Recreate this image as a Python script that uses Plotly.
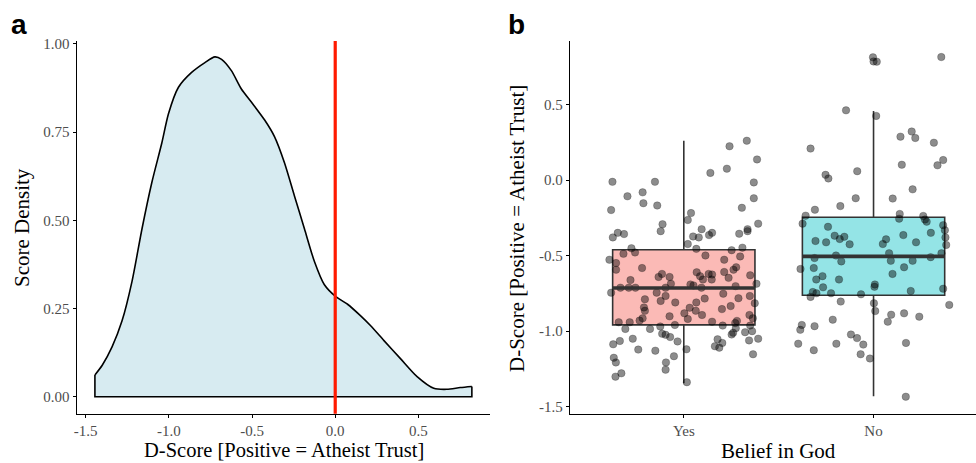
import plotly.graph_objects as go

# ---------------- Panel a: density of D-scores ----------------
density_x = [-1.444, -1.400, -1.341, -1.281, -1.221, -1.161, -1.102, -1.042, -1.002, -0.942,
             -0.863, -0.783, -0.723, -0.683, -0.624, -0.564, -0.504, -0.424, -0.365, -0.305,
             -0.245, -0.185, -0.125, -0.066, 0.000, 0.074, 0.153, 0.213, 0.293, 0.392,
             0.492, 0.592, 0.671, 0.751, 0.821]
density_y = [0.0615, 0.089, 0.141, 0.215, 0.327, 0.476, 0.607, 0.719, 0.802, 0.877,
             0.919, 0.947, 0.963, 0.956, 0.924, 0.872, 0.835, 0.784, 0.737, 0.663,
             0.569, 0.476, 0.383, 0.318, 0.285, 0.262, 0.229, 0.201, 0.159, 0.108,
             0.057, 0.024, 0.021, 0.026, 0.029]
ref_line = 0.0

a_xticks = [-1.5, -1.0, -0.5, 0.0, 0.5]
a_xticktext = ["-1.5", "-1.0", "-0.5", "0.0", "0.5"]
a_yticks = [0.0, 0.25, 0.5, 0.75, 1.0]
a_yticktext = ["0.00", "0.25", "0.50", "0.75", "1.00"]

# ---------------- Panel b: box plots + jittered scores ----------------
categories = ["Yes", "No"]
box_q1 = [-0.958, -0.762]
box_median = [-0.714, -0.505]
box_q3 = [-0.461, -0.246]
box_lower = [-1.344, -1.431]
box_upper = [0.261, 0.457]

yes_jitter = [-0.376, -0.152, -0.297, -0.217, -0.213, -0.140, -0.383, -0.112, -0.122, -0.348,
              -0.315, -0.374, -0.276, 0.241, 0.332, 0.386, 0.140, 0.227, 0.369, 0.369,
              0.306, 0.038, 0.021, 0.392, 0.094, 0.336, 0.336, 0.292, 0.149, 0.133,
              0.049, 0.079, 0.021, 0.066, 0.309, 0.252, -0.257, -0.318, -0.392, -0.357,
              -0.357, -0.220, -0.115, -0.133, -0.075, -0.281, -0.068, -0.334, -0.290, -0.255,
              -0.383, -0.143, -0.096, -0.096, -0.205, -0.045, -0.122, -0.210, -0.205, -0.075,
              -0.217, -0.233, -0.343, -0.285, 0.003, -0.308, -0.178, -0.124, -0.047, -0.114,
              -0.096, -0.072, -0.033, -0.269, -0.337, -0.372, -0.240, -0.150, -0.052, -0.369,
              -0.358, -0.094, -0.096, -0.329, -0.360, 0.016, 0.114, 0.213, 0.297, 0.068,
              0.086, 0.131, 0.149, 0.101, 0.147, 0.213, 0.236, 0.262, 0.276, 0.350,
              0.383, 0.035, 0.051, 0.093, 0.273, 0.110, 0.208, 0.288, 0.348, 0.066,
              0.031, 0.201, 0.247, 0.374, 0.063, 0.096, 0.021, 0.149, 0.346, 0.364,
              0.280, 0.271, 0.205, 0.274, 0.350, 0.260, 0.252, 0.323, 0.360, 0.178,
              0.203, 0.164, 0.187, 0.344, 0.392, 0.014, 0.365]
yes_scores = [-0.011, -0.011, -0.107, -0.081, -0.153, -0.168, -0.198, -0.292, -0.338, -0.349,
              -0.357, -0.379, -0.451, 0.224, 0.261, 0.137, 0.048, 0.076, -0.015, -0.120,
              -0.183, -0.218, -0.264, -0.288, -0.325, -0.325, -0.338, -0.355, -0.349, -0.364,
              -0.373, -0.379, -0.423, -0.455, -0.447, -0.464, -0.479, -0.488, -0.527, -0.549,
              -0.593, -0.582, -0.621, -0.641, -0.641, -0.662, -0.686, -0.712, -0.712, -0.712,
              -0.745, -0.745, -0.712, -0.767, -0.789, -0.810, -0.800, -0.843, -0.865, -0.902,
              -0.915, -0.930, -0.941, -0.941, -0.882, -0.985, -0.985, -0.969, -0.959, -1.017,
              -1.024, -1.039, -1.068, -1.050, -1.065, -1.087, -1.122, -1.129, -1.166, -1.176,
              -1.207, -1.207, -1.255, -1.279, -1.301, -1.338, -0.499, -0.527, -0.505, -0.610,
              -0.636, -0.621, -0.625, -0.658, -0.658, -0.608, -0.647, -0.593, -0.577, -0.630,
              -0.686, -0.691, -0.697, -0.712, -0.702, -0.784, -0.752, -0.782, -0.767, -0.810,
              -0.845, -0.854, -0.834, -0.815, -0.865, -0.893, -0.919, -0.937, -0.893, -0.915,
              -0.932, -0.946, -0.963, -0.980, -0.963, -1.011, -1.022, -1.007, -1.000, -1.054,
              -1.078, -1.100, -1.109, -1.061, -1.050, -1.120, -1.153]

no_jitter = [-0.003, 0.000, 0.017, 0.357, -0.145, 0.014, -0.332, -0.253, -0.238, -0.086,
             -0.094, -0.175, -0.309, -0.358, 0.142, 0.201, 0.220, 0.318, 0.149, 0.337,
             0.367, 0.206, 0.101, 0.138, 0.262, 0.135, -0.374, -0.240, -0.205, -0.178,
             -0.154, -0.306, -0.250, -0.126, -0.311, -0.170, -0.198, -0.385, -0.315, -0.269,
             -0.302, -0.182, -0.266, 0.007, 0.005, -0.320, -0.301, -0.224, -0.066, -0.332,
             -0.173, 0.002, 0.009, -0.215, -0.378, -0.386, -0.311, -0.119, -0.087, -0.054,
             -0.397, -0.196, -0.315, -0.068, -0.019, 0.271, 0.280, 0.367, 0.376, 0.379,
             0.383, 0.066, 0.049, 0.157, 0.224, 0.302, 0.082, 0.091, 0.206, 0.161,
             0.301, 0.358, 0.100, 0.196, 0.367, 0.093, 0.075, 0.161, 0.241, 0.399,
             0.171, 0.170]
no_scores = [0.813, 0.786, 0.784, 0.815, 0.462, 0.425, 0.209, 0.035, 0.011, 0.059,
             -0.120, -0.172, -0.196, -0.235, 0.288, 0.322, 0.279, 0.248, 0.102, 0.098,
             0.133, -0.061, -0.122, -0.224, -0.237, -0.255, -0.288, -0.309, -0.368, -0.390,
             -0.375, -0.403, -0.412, -0.425, -0.516, -0.538, -0.499, -0.588, -0.582, -0.636,
             -0.658, -0.658, -0.710, -0.691, -0.706, -0.741, -0.749, -0.749, -0.756, -0.773,
             -0.804, -0.815, -0.867, -0.924, -0.959, -0.991, -0.967, -1.022, -1.046, -1.089,
             -1.083, -1.083, -1.126, -1.153, -1.181, -0.261, -0.275, -0.298, -0.331, -0.379,
             -0.429, -0.392, -0.423, -0.364, -0.412, -0.349, -0.484, -0.534, -0.534, -0.577,
             -0.510, -0.484, -0.621, -0.734, -0.719, -0.891, -0.937, -0.882, -0.904, -0.826,
             -1.078, -1.434]

b_yticks = [-1.5, -1.0, -0.5, 0.0, 0.5]
b_yticktext = ["-1.5", "-1.0", "-0.5", "0.0", "0.5"]

box_fill = ["rgba(248,118,109,0.5)", "rgba(0,191,196,0.42)"]
box_width = 0.75

W, H = 976, 463
SERIF = "Liberation Serif, Times New Roman, serif"
SANS = "Liberation Sans, Arial, sans-serif"


def px(x):
    return x / W


def py(y):
    return 1 - y / H


fig = go.Figure()

# density area (smooth curve filled down to zero)
fig.add_trace(go.Scatter(
    x=density_x, y=density_y, mode="lines", fill="tozeroy", fillcolor="#d7ebf1",
    line=dict(color="black", width=1.6, shape="spline", smoothing=0.7),
    xaxis="x", yaxis="y", hoverinfo="skip", showlegend=False))
# straight edges of the density outline (left side, baseline, right side)
fig.add_trace(go.Scatter(
    x=[density_x[0], density_x[0], density_x[-1], density_x[-1]],
    y=[density_y[0], 0.0, 0.0, density_y[-1]], mode="lines",
    line=dict(color="black", width=1.6),
    xaxis="x", yaxis="y", hoverinfo="skip", showlegend=False))

# jittered points (drawn under the boxes)
pos = {c: i for i, c in enumerate(categories)}
fig.add_trace(go.Scatter(
    x=[pos["Yes"] + j for j in yes_jitter] + [pos["No"] + j for j in no_jitter],
    y=yes_scores + no_scores, mode="markers",
    marker=dict(size=7.5, color="rgba(0,0,0,0.45)",
                line=dict(width=0.7, color="rgba(0,0,0,0.3)")),
    xaxis="x2", yaxis="y2", hoverinfo="skip", showlegend=False))

# boxes
for i, c in enumerate(categories):
    fig.add_trace(go.Box(
        x=[i], q1=[box_q1[i]], median=[box_median[i]], q3=[box_q3[i]],
        lowerfence=[box_lower[i]], upperfence=[box_upper[i]],
        width=box_width, whiskerwidth=0, fillcolor=box_fill[i], boxpoints=False,
        line=dict(color="#333333", width=1.6),
        xaxis="x2", yaxis="y2", hoverinfo="skip", showlegend=False))
    # thick median bar
    fig.add_trace(go.Scatter(
        x=[i - box_width / 2, i + box_width / 2], y=[box_median[i], box_median[i]],
        mode="lines", line=dict(color="#333333", width=3.6),
        xaxis="x2", yaxis="y2", hoverinfo="skip", showlegend=False))

ydom = [py(414), py(36.5)]
axis_common = dict(showgrid=False, zeroline=False, showline=True, linecolor="black",
                   linewidth=1.3, ticks="outside", ticklen=3, tickwidth=1.1,
                   tickcolor="black", tickfont=dict(family=SERIF, size=15, color="#4d4d4d"))

fig.update_layout(
    width=W, height=H, margin=dict(l=0, r=0, t=0, b=0),
    paper_bgcolor="white", plot_bgcolor="white", showlegend=False,
    xaxis=dict(domain=[px(74), px(489)], range=[-1.553, 0.933], anchor="y",
               tickmode="array", tickvals=a_xticks, ticktext=a_xticktext, **axis_common),
    yaxis=dict(domain=ydom, range=[-0.048, 1.008], anchor="x",
               tickmode="array", tickvals=a_yticks, ticktext=a_yticktext, **axis_common),
    xaxis2=dict(domain=[px(568.7), 1.0], range=[-0.6, 1.54], anchor="y2",
                tickmode="array", tickvals=[pos[c] for c in categories], ticktext=categories,
                **axis_common),
    yaxis2=dict(domain=ydom, range=[-1.546, 0.921], anchor="x2",
                tickmode="array", tickvals=b_yticks, ticktext=b_yticktext, **axis_common),
    shapes=[dict(type="line", xref="x", yref="y domain", x0=ref_line, x1=ref_line,
                 y0=0, y1=1, line=dict(color="#ff1a00", width=3.2))],
    annotations=[
        dict(text="<b>a</b>", x=px(6), y=py(20), xref="paper", yref="paper",
             xanchor="left", yanchor="middle", showarrow=False,
             font=dict(family=SANS, size=28, color="black")),
        dict(text="<b>b</b>", x=px(505), y=py(20), xref="paper", yref="paper",
             xanchor="left", yanchor="middle", showarrow=False,
             font=dict(family=SANS, size=28, color="black")),
        dict(text="Score Density", x=px(19), y=py(225), xref="paper", yref="paper",
             xanchor="center", yanchor="middle", textangle=-90, showarrow=False,
             font=dict(family=SERIF, size=21, color="black")),
        dict(text="D-Score [Positive = Atheist Trust]", x=px(281.5), y=py(450.5),
             xref="paper", yref="paper", xanchor="center", yanchor="middle", showarrow=False,
             font=dict(family=SERIF, size=20.5, color="black")),
        dict(text="D-Score [Positive = Atheist Trust]", x=px(515.5), y=py(226),
             xref="paper", yref="paper", xanchor="center", yanchor="middle", textangle=-90,
             showarrow=False, font=dict(family=SERIF, size=21, color="black")),
        dict(text="Belief in God", x=px(778), y=py(452), xref="paper", yref="paper",
             xanchor="center", yanchor="middle", showarrow=False,
             font=dict(family=SERIF, size=21, color="black")),
    ],
)

fig.write_html("out.html", config={"displayModeBar": False},
               post_script="document.body.style.margin='0';document.body.style.overflow='hidden';")
